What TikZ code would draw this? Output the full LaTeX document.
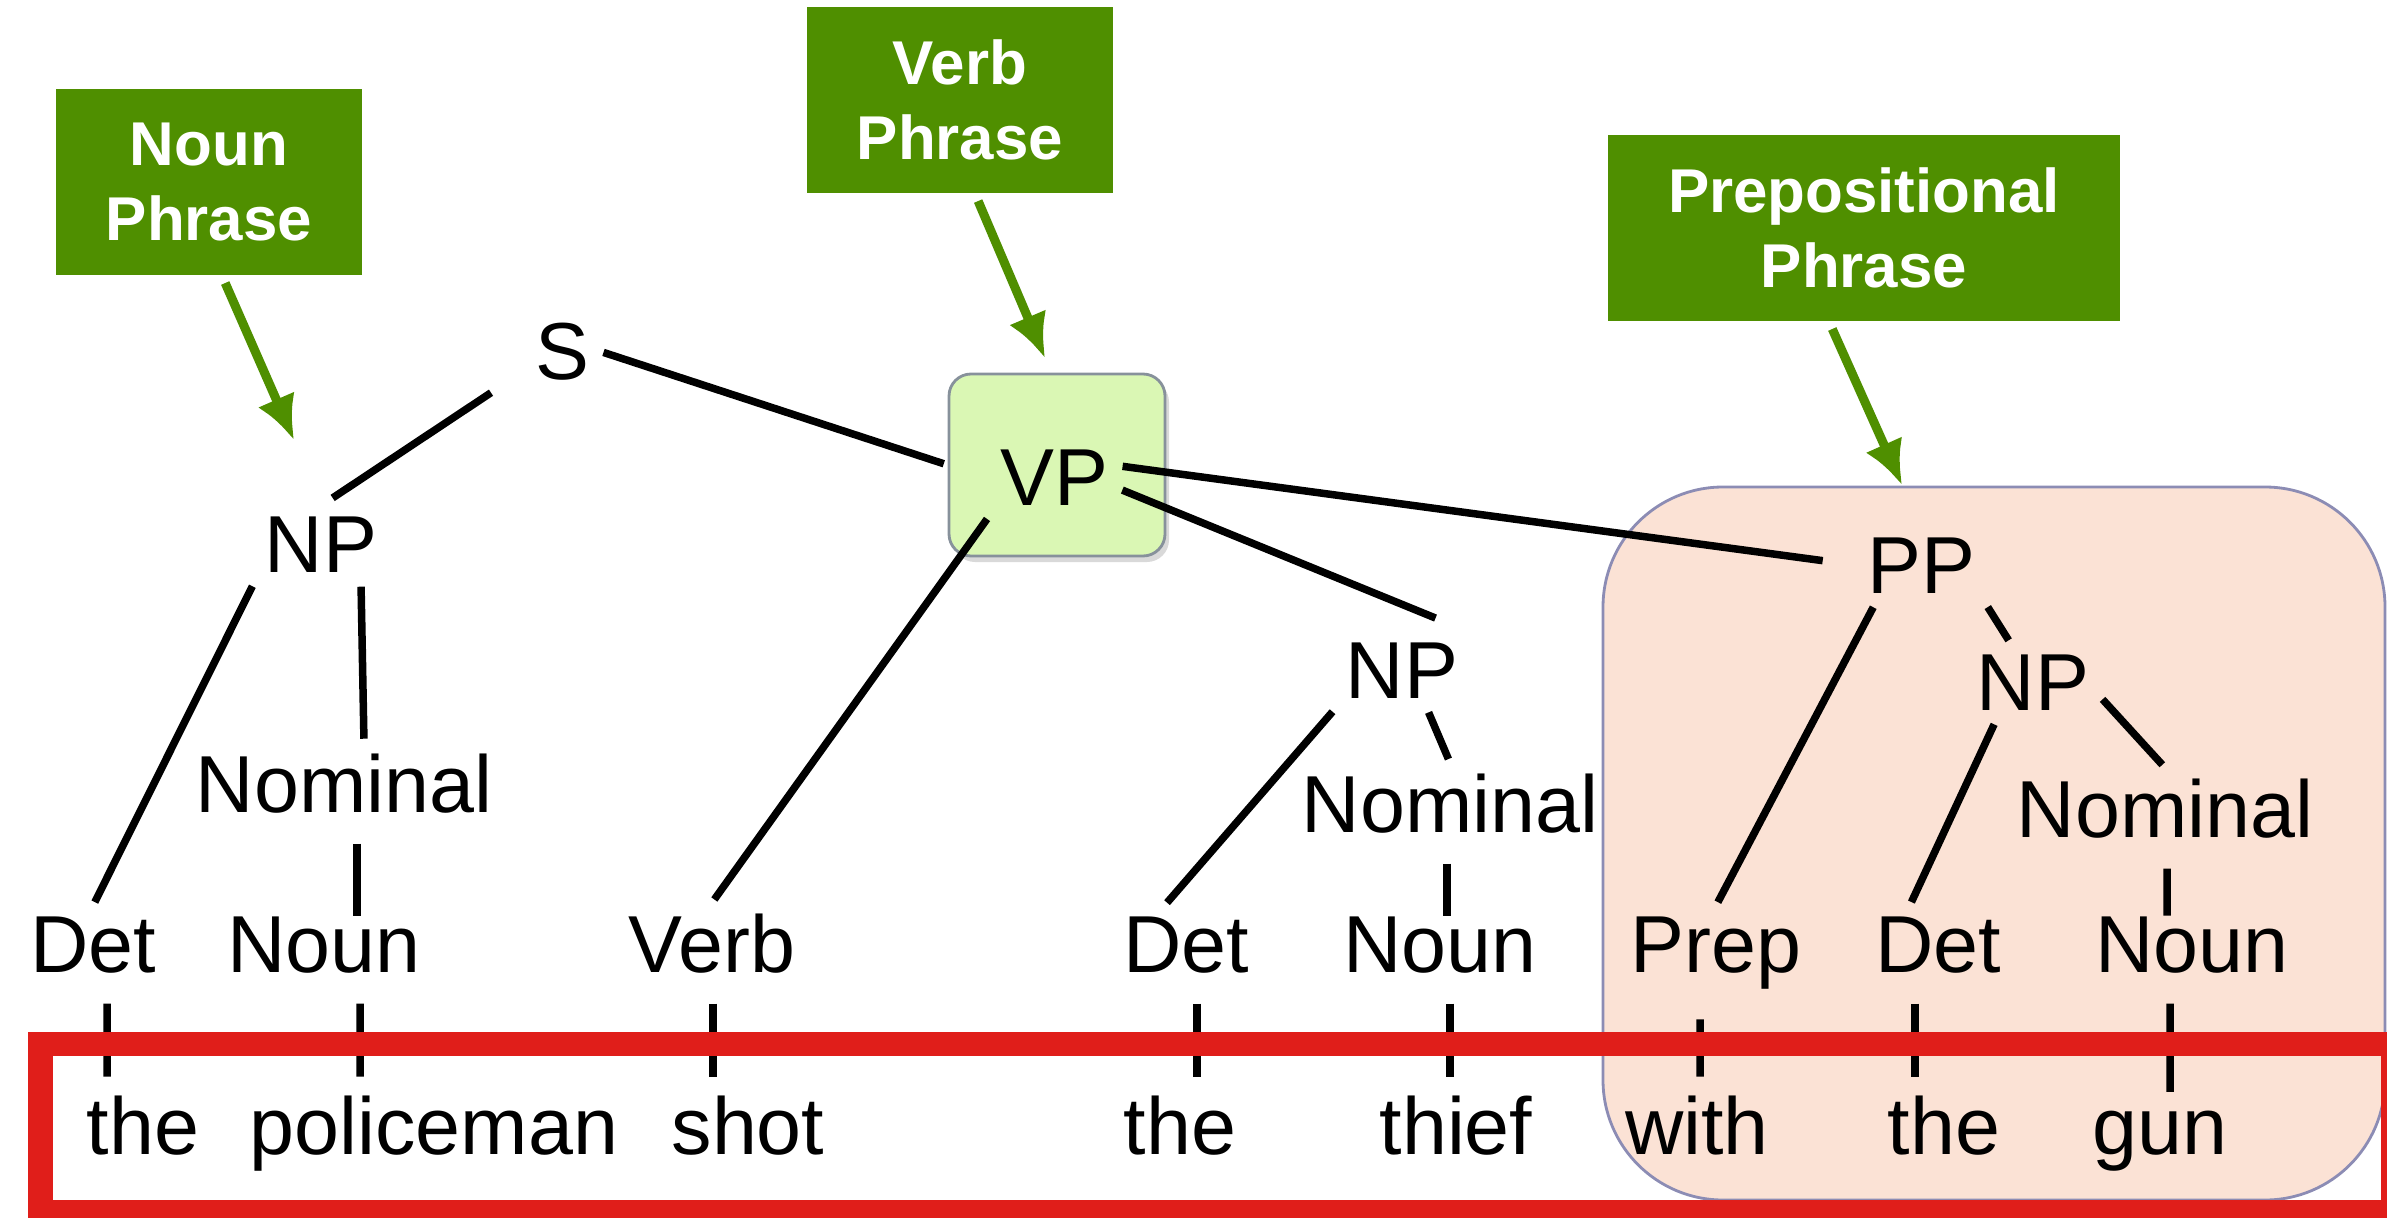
\documentclass[tikz,border=0pt]{standalone}
\usepackage{fontspec}
\setmainfont{Liberation Sans}
\usetikzlibrary{arrows.meta,shadows}
\definecolor{SynGreen}{RGB}{79,143,0}
\definecolor{SynLime}{RGB}{218,247,180}
\definecolor{SynLimeLine}{RGB}{135,145,155}
\definecolor{SynPeach}{RGB}{251,226,213}
\definecolor{SynPeachLine}{RGB}{140,140,180}
\definecolor{SynRed}{RGB}{224,30,26}
\tikzset{
  syn/cat/.style={
    anchor=base,
    inner sep=0.1cm,
    text=black,
    font=\fontsize{23}{27}\selectfont
  },
  syn/word/.style={syn/cat},
  syn/edge/.style={line width=0.075cm, draw=black, shorten <=0.04cm, shorten >=0.04cm},
  syn/bar/.style={line width=0.075cm, draw=black, shorten <=0.2cm, shorten >=0.08cm},
  syn/tag/.style={
    fill=SynGreen,
    text=white,
    align=center,
    inner sep=0pt,
    minimum height=1.86cm,
    font=\fontsize{17.6}{21.3}\selectfont\bfseries
  },
  syn/tagarrow/.style={-{Latex[length=0.44cm,width=0.40cm]}, line width=0.09cm, draw=SynGreen, shorten <=0.08cm},
  syn/vpbox/.style={
    draw=SynLimeLine,
    thick,
    rounded corners=0.22cm,
    fill=SynLime,
    inner sep=0pt,
    minimum width=2.16cm,
    minimum height=1.82cm,
    drop shadow={shadow xshift=0.04cm, shadow yshift=-0.06cm, opacity=0.3}
  },
  syn/ppbox/.style={
    draw=SynPeachLine,
    thick,
    rounded corners=1.2cm,
    fill=SynPeach,
    inner sep=0pt,
    minimum width=7.82cm,
    minimum height=7.13cm
  },
  syn/frame/.style={draw=SynRed, line width=0.24cm}
}

\begin{document}
\begin{tikzpicture}[x=1cm,y=1cm]
  \useasboundingbox (0,0) rectangle (23.87,12.17);
  \clip (0,0) rectangle (23.87,12.17);

  % highlighted phrases
  \node[syn/ppbox] (ppbox) at (19.94,3.735) {};
  \node[syn/vpbox] (vpbox) at (10.57,7.52) {};

  % categories
  \node[syn/cat] (s) at (5.62,8.38) {S};
  \node[syn/cat] (np1) at (3.21,6.45) {NP};
  \node[syn/cat] (vp) at (10.54,7.12) {VP};
  \node[syn/cat] (nominal1) at (3.44,4.05) {Nominal};
  \node[syn/cat] (det1) at (0.93,2.45) {Det};
  \node[syn/cat] (noun1) at (3.24,2.45) {Noun};
  \node[syn/cat] (verb) at (7.12,2.45) {Verb};
  \node[syn/cat] (np2) at (14.02,5.19) {NP};
  \node[syn/cat] (nominal2) at (14.50,3.85) {Nominal};
  \node[syn/cat] (det2) at (11.86,2.45) {Det};
  \node[syn/cat] (noun2) at (14.40,2.45) {Noun};
  \node[syn/cat] (pp) at (19.21,6.24) {PP};
  \node[syn/cat] (np3) at (20.33,5.07) {NP};
  \node[syn/cat] (nominal3) at (21.65,3.80) {Nominal};
  \node[syn/cat] (prep) at (17.16,2.45) {Prep};
  \node[syn/cat] (det3) at (19.38,2.45) {Det};
  \node[syn/cat] (noun3) at (21.92,2.45) {Noun};

  % words
  \node[syn/word] (the1) at (1.43,0.63) {the};
  \node[syn/word] (policeman) at (4.34,0.63) {policeman};
  \node[syn/word] (shot) at (7.48,0.63) {shot};
  \node[syn/word] (the2) at (11.80,0.63) {the};
  \node[syn/word] (thief) at (14.56,0.63) {thief};
  \node[syn/word] (with) at (16.97,0.63) {with};
  \node[syn/word] (the3) at (19.44,0.63) {the};
  \node[syn/word] (gun) at (21.60,0.63) {gun};

  % tree
  \draw[syn/edge,shorten >=0.14cm] ([xshift=-0.3cm]s.south west) -- (np1.north);
  \draw[syn/edge] (s.east) -- (vpbox.west);
  \draw[syn/edge] (np1.south west) -- (det1.north);
  \draw[syn/edge] ([xshift=0.4cm]np1.south) -- ([xshift=0.2cm]nominal1.north);
  \draw[syn/bar,shorten >=-0.1cm] ([xshift=0.13cm]nominal1.south) -- ([xshift=0.33cm]noun1.north);
  \draw[syn/edge] (vp.south west) -- (verb.north);
  \draw[syn/edge,shorten >=0.36cm] (vp.-10) -- (np2.north east);
  \draw[syn/edge,shorten >=0.34cm] (vp.10) -- (pp.west);
  \draw[syn/edge] (np2.south west) -- (det2.119);
  \draw[syn/edge] (np2.-57) -- (nominal2.north);
  \draw[syn/bar,shorten >=-0.1cm] ([xshift=-0.03cm]nominal2.south) -- ([xshift=0.07cm]noun2.north);
  \draw[syn/edge] (pp.-140) -- (prep.north);
  \draw[syn/edge] (pp.south east) -- (np3.120);
  \draw[syn/edge] (np3.-134) -- (det3.126);
  \draw[syn/edge] (np3.-12) -- (nominal3.north);
  \draw[syn/bar,shorten >=-0.1cm] ([xshift=0.02cm]nominal3.south) -- ([xshift=-0.25cm]noun3.north);

  % leaves
  \draw[syn/bar] ([xshift=0.14cm]det1.south) -- ([xshift=-0.36cm]the1.north);
  \draw[syn/bar] ([xshift=0.36cm]noun1.south) -- ([xshift=-0.74cm]policeman.north);
  \draw[syn/bar] ([xshift=0.01cm]verb.south) -- ([xshift=-0.35cm]shot.north);
  \draw[syn/bar] ([xshift=0.11cm]det2.south) -- ([xshift=0.17cm]the2.north);
  \draw[syn/bar] ([xshift=0.10cm]noun2.south) -- ([xshift=-0.06cm]thief.north);
  \draw[syn/bar] ([xshift=-0.16cm]prep.south) -- ([xshift=0.03cm]with.north);
  \draw[syn/bar] ([xshift=-0.23cm]det3.south) -- ([xshift=-0.29cm]the3.north);
  \draw[syn/bar] ([xshift=-0.22cm]noun3.south) -- ([xshift=0.10cm]gun.north);

  % phrase tags
  \node[syn/tag,minimum width=3.06cm] (nounph) at (2.09,10.35) {Noun\\Phrase};
  \node[syn/tag,minimum width=3.06cm] (verbph) at (9.60,11.17) {Verb\\Phrase};
  \node[syn/tag,minimum width=5.12cm] (prepph) at (18.64,9.89) {Prepositional\\Phrase};
  \coordinate (nptip) at (2.94,7.77);
  \coordinate (vptip) at (10.45,8.59);
  \coordinate (pptip) at (19.02,7.32);
  \draw[syn/tagarrow] ([xshift=0.13cm]nounph.south) -- (nptip);
  \draw[syn/tagarrow] ([xshift=0.15cm]verbph.south) -- (vptip);
  \draw[syn/tagarrow] ([xshift=-0.35cm]prepph.south) -- (pptip);

  % sentence frame
  \draw[syn/frame] (0.405,0.05) rectangle (23.93,1.73);
\end{tikzpicture}
\end{document}
